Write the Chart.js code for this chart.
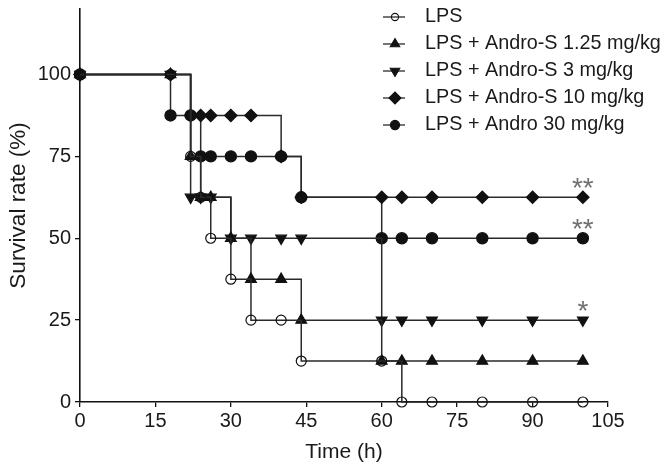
<!DOCTYPE html>
<html>
<head>
<meta charset="utf-8">
<script src="https://cdn.jsdelivr.net/npm/chart.js@4.4.1/dist/chart.umd.min.js"></script>
<style>
    html, body { margin: 0; padding: 0; background: #fff; }
</style>
</head>
<body>
<canvas id="survivalChart" width="666" height="466"></canvas>
<script>
// Kaplan-Meier survival, values (steps of 12.5 %)
const timePoints = [0, 18, 22, 24, 26, 30, 34, 40, 44, 60, 64, 70, 80, 90, 100];
const lps      = [100, 100, 75, 62.5, 50, 37.5, 25, 25, 12.5, 12.5, 0, 0, 0, 0, 0];
const andS125  = [100, 100, 75, 62.5, 62.5, 50, 37.5, 37.5, 25, 12.5, 12.5, 12.5, 12.5, 12.5, 12.5];
const andS3    = [100, 100, 62.5, 62.5, 62.5, 50, 50, 50, 50, 25, 25, 25, 25, 25, 25];
const andS10   = [100, 100, 87.5, 87.5, 87.5, 87.5, 87.5, 75, 62.5, 62.5, 62.5, 62.5, 62.5, 62.5, 62.5];
const andro30  = [100, 87.5, 87.5, 75, 75, 75, 75, 75, 62.5, 50, 50, 50, 50, 50, 50];

const seriesNames = ['LPS', 'LPS + Andro-S 1.25 mg/kg', 'LPS + Andro-S 3 mg/kg', 'LPS + Andro-S 10 mg/kg', 'LPS + Andro 30 mg/kg'];
const significance = ['', '', '*', '**', '**'];

const xTicks = [0, 15, 30, 45, 60, 75, 90, 105];
const yTicks = [0, 25, 50, 75, 100];

const FONT = "'Liberation Sans', Arial, sans-serif";
Chart.defaults.font.family = FONT;
Chart.defaults.color = '#1a1a1a';

const markers = [
    { pointStyle: 'circle',   rotation: 0,   radius: 5,   legendRadius: 3.6, fill: 'rgba(0,0,0,0)' },
    { pointStyle: 'triangle', rotation: 0,   radius: 6.2, legendRadius: 5.5, fill: '#111' },
    { pointStyle: 'triangle', rotation: 180, radius: 6.2, legendRadius: 5.5, fill: '#111' },
    { pointStyle: 'rectRot',  rotation: 0,   radius: 6.2, legendRadius: 6,   fill: '#111' },
    { pointStyle: 'circle',   rotation: 0,   radius: 5.6, legendRadius: 4.6, fill: '#111' }
];

const toPoints = vals => timePoints.map((t, i) => ({ x: t, y: vals[i] }));

const datasets = [lps, andS125, andS3, andS10, andro30].map((vals, i) => ({
    label: seriesNames[i],
    data: toPoints(vals),
    stepped: true,
    fill: false,
    clip: false,
    borderColor: '#2a2a2a',
    borderWidth: 1.5,
    pointStyle: markers[i].pointStyle,
    pointRotation: markers[i].rotation,
    pointRadius: markers[i].radius,
    pointBackgroundColor: markers[i].fill,
    pointBorderColor: '#111',
    pointBorderWidth: 1.2
}));

// legend drawn inside the plot, line + marker + text
const sideLegend = {
    id: 'sideLegend',
    afterDraw(chart, args, opts) {
        const ctx = chart.ctx;
        chart.data.datasets.forEach((ds, i) => {
            const y = opts.top + i * opts.rowHeight;
            ctx.save();
            ctx.strokeStyle = ds.borderColor;
            ctx.lineWidth = 1.3;
            ctx.beginPath();
            ctx.moveTo(opts.left, y);
            ctx.lineTo(opts.left + opts.lineLength, y);
            ctx.stroke();
            ctx.fillStyle = ds.pointBackgroundColor;
            ctx.strokeStyle = ds.pointBorderColor;
            ctx.lineWidth = 1.1;
            Chart.helpers.drawPoint(ctx, {
                pointStyle: ds.pointStyle,
                rotation: ds.pointRotation,
                radius: markers[i].legendRadius,
                borderWidth: 1.1
            }, opts.left + opts.lineLength / 2 + 1, y);
            ctx.fillStyle = '#1a1a1a';
            ctx.font = opts.fontSize + 'px ' + FONT;
            ctx.textBaseline = 'middle';
            ctx.textAlign = 'left';
            ctx.fillText(ds.label, opts.textLeft, y);
            ctx.restore();
        });
    }
};

// significance stars over the last point of each curve
const stars = {
    id: 'stars',
    afterDatasetsDraw(chart, args, opts) {
        const ctx = chart.ctx;
        ctx.save();
        ctx.fillStyle = opts.color;
        ctx.font = opts.fontSize + 'px ' + FONT;
        ctx.textAlign = 'center';
        ctx.textBaseline = 'alphabetic';
        significance.forEach((txt, i) => {
            if (!txt) return;
            const pts = chart.getDatasetMeta(i).data;
            const last = pts[pts.length - 1];
            ctx.fillText(txt, last.x, last.y + opts.offset);
        });
        ctx.restore();
    }
};

new Chart(document.getElementById('survivalChart'), {
    type: 'line',
    data: { datasets },
    plugins: [sideLegend, stars],
    options: {
        responsive: false,
        animation: false,
        devicePixelRatio: 1,
        layout: { padding: { left: 0, right: 58, top: 9, bottom: 0 } },
        plugins: {
            legend: { display: false },
            tooltip: { enabled: false },
            sideLegend: { left: 383, lineLength: 22, textLeft: 425, top: 17, rowHeight: 27, fontSize: 19.8 },
            stars: { color: '#707070', fontSize: 28, offset: 0 }
        },
        scales: {
            x: {
                type: 'linear',
                min: 0,
                max: 105,
                afterBuildTicks: axis => { axis.ticks = xTicks.map(v => ({ value: v })); },
                afterFit: s => { s.height = 64; s.paddingLeft = 0; s.paddingRight = 0; },
                grid: { drawOnChartArea: false, tickLength: 5, color: '#111', lineWidth: 1.3 },
                border: { color: '#111', width: 1.6 },
                ticks: { font: { size: 20 }, padding: 2, maxRotation: 0 },
                title: { display: true, text: 'Time (h)', font: { size: 21 }, padding: { top: 0, bottom: 1 } }
            },
            y: {
                min: 0,
                max: 120,
                afterBuildTicks: axis => { axis.ticks = yTicks.map(v => ({ value: v })); },
                afterFit: s => { s.width = 80; s.paddingTop = 0; s.paddingBottom = 0; },
                grid: { drawOnChartArea: false, tickLength: 5, color: '#111', lineWidth: 1.3 },
                border: { color: '#111', width: 1.6 },
                ticks: { font: { size: 20 }, padding: 4 },
                title: { display: true, text: 'Survival rate (%)', font: { size: 22.5 }, padding: { top: 5, bottom: 0 } }
            }
        }
    }
});
</script>
</body>
</html>
